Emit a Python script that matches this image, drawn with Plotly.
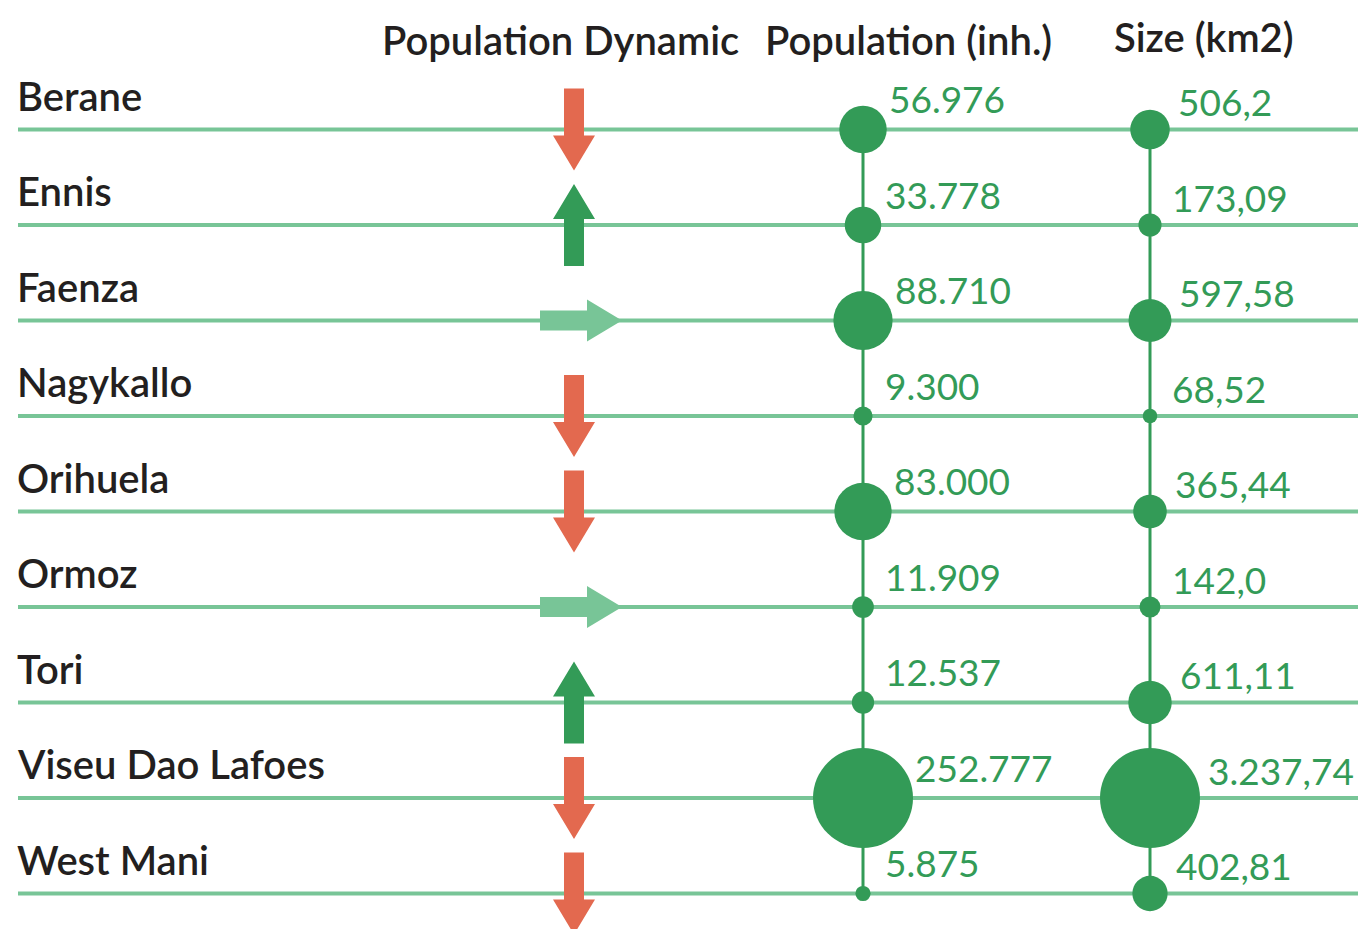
import math
import plotly.graph_objects as go

# ---------------- data ----------------
towns = ["Berane", "Ennis", "Faenza", "Nagykallo", "Orihuela", "Ormoz", "Tori",
         "Viseu Dao Lafoes", "West Mani"]
dynamic = ["down", "up", "right", "down", "down", "right", "up", "down", "down"]
population = [56976, 33778, 88710, 9300, 83000, 11909, 12537, 252777, 5875]
population_labels = ["56.976", "33.778", "88.710", "9.300", "83.000", "11.909",
                     "12.537", "252.777", "5.875"]
size_km2 = [506.2, 173.09, 597.58, 68.52, 365.44, 142.0, 611.11, 3237.74, 402.81]
size_labels = ["506,2", "173,09", "597,58", "68,52", "365,44", "142,0", "611,11",
               "3.237,74", "402,81"]
headers = ["Population Dynamic", "Population (inh.)", "Size (km2)"]

# ---------------- layout / style ----------------
W, H = 1366, 929
BODY = 8                           # default page margin around the plot div
ROW0_PX, ROW_PX = 129.5, 95.5      # pixel position of first row line, row spacing
X_ARROW, X_POP, X_SIZE = 574, 863, 1150
X_RIGHT_ARROW = 581
MAX_D = 100                        # diameter of the largest bubble

RED = "#e3694f"
DARK = "#339b57"
LIGHT = "#78c597"
BLACK = "#231f20"
FONT = "Lato"

rows = list(range(len(towns)))


def py(px):
    """pixel y -> data y (row units)"""
    return (px - ROW0_PX) / ROW_PX


fig = go.Figure()
shapes = []

# horizontal row lines
for i in rows:
    shapes.append(dict(type="line", xref="x", yref="y", x0=18, x1=W + 10, y0=i, y1=i,
                       line=dict(color=LIGHT, width=4), layer="below"))

# arrows
arrow_color = {"down": RED, "up": DARK, "right": LIGHT}
for i, d in zip(rows, dynamic):
    if d in ("down", "up"):
        s = 1 if d == "down" else -1
        pts = [(-10, -41 * s), (10, -41 * s), (10, 6 * s), (21, 6 * s), (0, 41 * s),
               (-21, 6 * s), (-10, 6 * s)]
        cx = X_ARROW
    else:
        pts = [(-41, -10), (6, -10), (6, -21), (41, 0), (6, 21), (6, 10), (-41, 10)]
        cx = X_RIGHT_ARROW
    coords = [(cx + dx, i + dy / ROW_PX) for dx, dy in pts]
    path = "M " + " L ".join(f"{x:.2f},{y:.4f}" for x, y in coords) + " Z"
    shapes.append(dict(type="path", xref="x", yref="y", path=path,
                       fillcolor=arrow_color[d], line=dict(width=0), layer="below"))

# vertical connectors + bubbles
for xcol, vals in ((X_POP, population), (X_SIZE, size_km2)):
    fig.add_trace(go.Scatter(x=[xcol] * len(rows), y=rows, mode="lines",
                             line=dict(color=DARK, width=3), hoverinfo="skip",
                             showlegend=False))
    vmax = max(vals)
    fig.add_trace(go.Scatter(
        x=[xcol] * len(rows), y=rows, mode="markers",
        marker=dict(size=vals, sizemode="area", sizeref=2 * vmax / MAX_D ** 2,
                    color=DARK, line=dict(width=0), opacity=1),
        hoverinfo="skip", showlegend=False))

annotations = []
# value labels
for xcol, vals, labels, ysh, rmin, pad in (
        (X_POP, population, population_labels, 31, 20, 0),
        (X_SIZE, size_km2, size_labels, 28, 14, 6)):
    vmax = max(vals)
    for i, v, lab in zip(rows, vals, labels):
        r = MAX_D / 2 * math.sqrt(v / vmax)
        annotations.append(dict(
            x=xcol, y=i, xref="x", yref="y", text=lab, showarrow=False,
            xanchor="left", yanchor="middle", xshift=max(r, rmin) + pad, yshift=ysh,
            font=dict(family=FONT, size=37, color=DARK, weight=400)))

# town names
for i, t in zip(rows, towns):
    annotations.append(dict(
        x=18, y=i, xref="x", yref="y", text=t, showarrow=False,
        xanchor="left", yanchor="middle", yshift=34, xshift=-3,
        font=dict(family=FONT, size=40, color=BLACK, weight=600)))

# column headers
for h, hx, hy in zip(headers, (560, 908, 1204), (40, 40, 37)):
    annotations.append(dict(
        x=hx, y=py(hy), xref="x", yref="y", text=h, showarrow=False,
        xanchor="center", yanchor="middle",
        font=dict(family=FONT, size=40, color=BLACK, weight=600)))

fig.update_layout(
    width=W - BODY, height=H - BODY,
    margin=dict(l=0, r=0, t=0, b=0),
    paper_bgcolor="white", plot_bgcolor="white",
    xaxis=dict(range=[BODY, W], visible=False, fixedrange=True),
    yaxis=dict(range=[py(H), py(BODY)], visible=False, fixedrange=True),
    shapes=shapes, annotations=annotations,
    showlegend=False,
)

fig.write_html("out.html", config={"displayModeBar": False})
